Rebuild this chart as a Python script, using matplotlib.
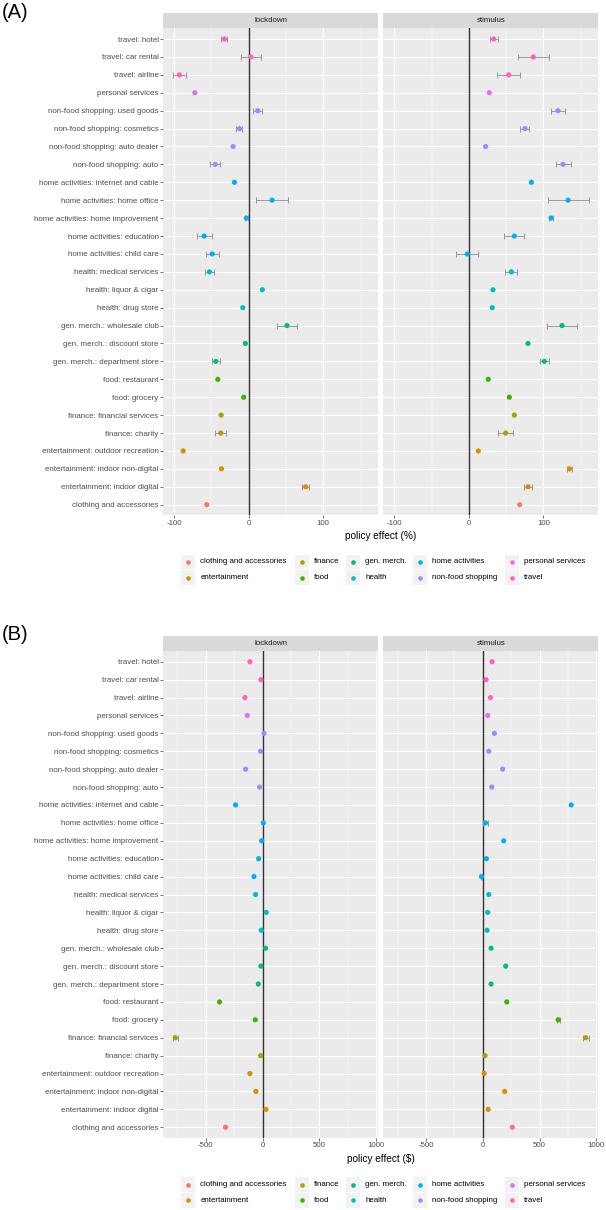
import numpy as np
import matplotlib
matplotlib.use("Agg")
import matplotlib.pyplot as plt
from matplotlib.patches import Rectangle
from matplotlib.ticker import MultipleLocator

plt.rcParams['font.family'] = ['Liberation Sans', 'DejaVu Sans']
plt.rcParams['axes.unicode_minus'] = False

# categories, top to bottom as shown
categories = [
    "travel: hotel", "travel: car rental", "travel: airline", "personal services",
    "non-food shopping: used goods", "non-food shopping: cosmetics",
    "non-food shopping: auto dealer", "non-food shopping: auto",
    "home activities: internet and cable", "home activities: home office",
    "home activities: home improvement", "home activities: education",
    "home activities: child care", "health: medical services",
    "health: liquor & cigar", "health: drug store",
    "gen. merch.: wholesale club", "gen. merch.: discount store",
    "gen. merch.: department store", "food: restaurant", "food: grocery",
    "finance: financial services", "finance: charity",
    "entertainment: outdoor recreation", "entertainment: indoor non-digital",
    "entertainment: indoor digital", "clothing and accessories",
]

groups = ["clothing and accessories", "entertainment", "finance", "food",
          "gen. merch.", "health", "home activities", "non-food shopping",
          "personal services", "travel"]
group_colors = ["#F8766D", "#D89000", "#A3A500", "#39B600", "#00BF7D",
                "#00BFC4", "#00B0F6", "#9590FF", "#E76BF3", "#FF62BC"]

facets = ["lockdown", "stimulus"]

# (A) policy effect in %
pct_lockdown = [-32.6, 3, -92.9, -72.3, 12, -12.5, -21, -45, -19.2, 31.3, -3.1,
                -59.8, -49, -52.7, 18.3, -8, 51.3, -4.5, -44.2, -41.5, -6.7,
                -37, -37.5, -88, -36.6, 76.3, -56.3]
pct_lockdown_err = [4, 14, 9, 0, 6, 4, 0, 7, 0, 22, 2.5, 10, 9, 6, 0, 0, 14, 0,
                    5, 0, 0, 0, 7.5, 0, 0, 5, 0]
pct_stimulus = [33.2, 86.5, 53.4, 27.4, 119.7, 75.3, 22.4, 126.5, 83.9, 133.2,
                110.3, 61, -2.2, 57, 32.3, 31.4, 125.1, 79.4, 101.3, 26, 54.3,
                61, 49.3, 12.6, 135, 79.4, 68.2]
pct_stimulus_err = [5.4, 20.6, 15, 0, 9.7, 6, 0, 10, 0, 27.5, 3, 13.5, 15, 8, 0,
                    0, 19.7, 0, 6, 0, 0, 0, 10.5, 0, 3, 6, 0]

# (B) policy effect in $
usd_lockdown = [-112, -15, -156, -135, 12, -18, -150, -26, -238, 6, -9, -35,
                -76, -62, 32, -12, 26, -15, -38, -379, -65, -768, -18, -112,
                -59, 29, -326]
usd_lockdown_err = [0, 0, 0, 0, 0, 0, 0, 0, 0, 0, 0, 0, 0, 0, 0, 0, 0, 0, 0, 0,
                    0, 22, 0, 0, 0, 0, 0]
usd_stimulus = [82, 29, 67, 44, 102, 53, 175, 79, 778, 23, 184, 32, -12, 53, 44,
                38, 73, 202, 73, 211, 664, 906, 20, 12, 193, 47, 260]
usd_stimulus_err = [0, 0, 0, 0, 0, 0, 0, 0, 0, 22, 0, 0, 8, 0, 0, 0, 0, 0, 0, 0,
                    12, 25, 0, 0, 0, 0, 0]

W, H = 606, 1210
fig = plt.figure(figsize=(W / 100, H / 100), dpi=100)


def box(x0, y0, x1, y1):
    return [x0 / W, 1 - y1 / H, (x1 - x0) / W, (y1 - y0) / H]


def data_limits(series):
    lo = min(min(np.array(v) - np.array(e)) for v, e in series)
    hi = max(max(np.array(v) + np.array(e)) for v, e in series)
    pad = 0.05 * (hi - lo)
    return lo - pad, hi + pad


def draw_panel(ax, values, errors, xlim, major, minor, show_y):
    n = len(categories)
    ypos = np.arange(n)[::-1]
    v = np.array(values, dtype=float)
    e = np.array(errors, dtype=float)
    ax.set_facecolor('#EBEBEB')
    ax.set_xlim(xlim)
    ax.set_ylim(-0.6, n - 0.4)
    ax.xaxis.set_major_locator(MultipleLocator(major))
    ax.xaxis.set_minor_locator(MultipleLocator(minor))
    ax.set_yticks(ypos)
    ax.grid(which='major', color='white', lw=0.75)
    ax.grid(which='minor', axis='x', color='white', lw=0.35)
    ax.set_axisbelow(True)
    for s in ax.spines.values():
        s.set_visible(False)
    ax.tick_params(which='minor', length=0)
    ax.tick_params(which='major', length=2, width=0.5, color='#333333',
                   labelsize=5.7, labelcolor='#4D4D4D', pad=1.2)
    if show_y:
        ax.set_yticklabels(categories)
    else:
        ax.tick_params(axis='y', left=False, labelleft=False)
    ax.axvline(0, color='#333333', lw=1.0, zorder=2)
    m = e > 0
    ax.errorbar(v[m], ypos[m], xerr=e[m], fmt='none', ecolor='#8C8C8C',
                elinewidth=0.6, capsize=1.9, capthick=0.6, zorder=3)
    cols = [group_colors[groups.index(c.split(':')[0])] for c in categories]
    ax.scatter(v, ypos, c=cols, s=14, linewidths=0, zorder=4)


blocks = [
    dict(label="(A)", top=13.3, bottom=515.4, xlabel="policy effect (%)",
         data=[(pct_lockdown, pct_lockdown_err), (pct_stimulus, pct_stimulus_err)],
         major=100, minor=50),
    dict(label="(B)", top=636, bottom=1138, xlabel="policy effect ($)",
         data=[(usd_lockdown, usd_lockdown_err), (usd_stimulus, usd_stimulus_err)],
         major=500, minor=250),
]
panel_x = [(163, 378.3), (383.3, 598.3)]
strip_h = 15
legend_cols_x = [181, 294.8, 345.5, 413, 504.8]

lax = fig.add_axes([0, 0, 1, 1])
lax.set_xlim(0, W)
lax.set_ylim(H, 0)
lax.axis('off')

for b in blocks:
    xlim = data_limits(b['data'])
    for k, (x0, x1) in enumerate(panel_x):
        ax = fig.add_axes(box(x0, b['top'] + strip_h, x1, b['bottom']))
        vals, errs = b['data'][k]
        draw_panel(ax, vals, errs, xlim, b['major'], b['minor'], k == 0)
        sax = fig.add_axes(box(x0, b['top'], x1, b['top'] + strip_h))
        sax.set_facecolor('#D9D9D9')
        sax.set_xticks([])
        sax.set_yticks([])
        for s in sax.spines.values():
            s.set_visible(False)
        sax.text(0.5, 0.5, facets[k], ha='center', va='center', fontsize=5.7,
                 color='#1A1A1A', transform=sax.transAxes)

    lax.text(2, b['top'] - 1, b['label'], fontsize=14.5, ha='left', va='center')
    lax.text((panel_x[0][0] + panel_x[1][1]) / 2, b['bottom'] + 20.5,
             b['xlabel'], fontsize=7.2, ha='center', va='center')

    # legend: 2 rows, filled column by column
    rows_y = [b['bottom'] + 46.5, b['bottom'] + 62.1]
    for i, g in enumerate(groups):
        cx = legend_cols_x[i // 2]
        cy = rows_y[i % 2]
        lax.add_patch(Rectangle((cx, cy - 7.3), 14.3, 14.8, facecolor='#F2F2F2',
                                edgecolor='none'))
        lax.scatter([cx + 7.15], [cy], s=11, color=group_colors[i], linewidths=0)
        lax.text(cx + 19.5, cy, g, fontsize=5.7, ha='left', va='center')

fig.savefig("out.png", dpi=100)
